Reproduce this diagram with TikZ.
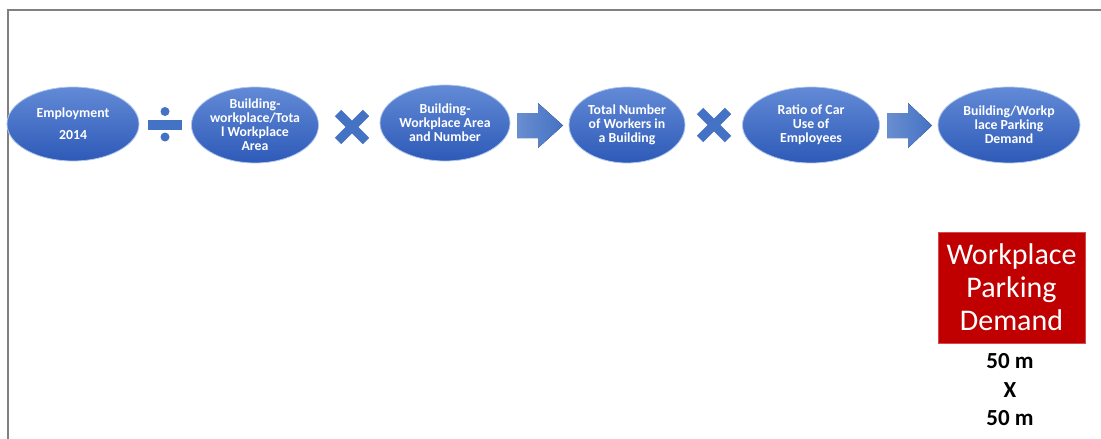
\documentclass[tikz,border=0pt]{standalone}
\usepackage{fontspec}
\setmainfont{Carlito}
\usetikzlibrary{shapes.geometric}

\definecolor{bluetop}{RGB}{98,138,214}
\definecolor{bluebot}{RGB}{46,90,184}
\definecolor{blueedge}{RGB}{175,198,236}
\definecolor{opblue}{RGB}{68,114,196}
\definecolor{boxred}{RGB}{192,0,0}
\definecolor{framegray}{RGB}{128,128,128}

\tikzset{
  stepoval/.style={ellipse, draw=blueedge, line width=0.8pt,
    top color=bluetop, bottom color=bluebot, text=white,
    font=\bfseries\fontsize{13.8}{14}\selectfont, align=center, inner sep=0pt},
  blockarrow/.style={left color=opblue!80, right color=opblue},
  crossbar/.style={opblue, line width=9pt},
}

\begin{document}
\begin{tikzpicture}[x=1pt,y=-1pt]
\useasboundingbox (0,0) rectangle (1101,439);

% frame
\draw[framegray, line width=2pt] (7.5,439) -- (7.5,9.5) -- (1101,9.5);

% chain of ellipses
\node[stepoval, minimum width=132pt, minimum height=74pt] (emp) at (73,124) {Employment\\[8pt]2014};
\node[stepoval, minimum width=124pt, minimum height=76pt] (bwr) at (255,125) {Building-\\workplace/Tota\\l Workplace\\Area};
\node[stepoval, minimum width=130pt, minimum height=76pt] (bwa) at (445,123) {Building-\\Workplace Area\\and Number};
\node[stepoval, minimum width=116pt, minimum height=76pt] (tnw) at (627,125) {Total Number\\of Workers in\\a Building};
\node[stepoval, minimum width=137pt, minimum height=76pt] (rcu) at (811,125) {Ratio of Car\\Use of\\Employees};
\node[stepoval, minimum width=142pt, minimum height=76pt] (bpd) at (1009,125) {Building/Workp\\lace Parking\\Demand};

% operators
\fill[opblue] (148,120) rectangle (182,130);
\fill[opblue] (165,111.5) circle (4.5pt);
\fill[opblue] (165,137) circle (4.5pt);

\draw[crossbar] (338,113) -- (366,141);
\draw[crossbar] (338,141) -- (366,113);

\fill[blockarrow] (517,113) -- (538,113) -- (538,103) -- (563,125.5)
  -- (538,148) -- (538,138) -- (517,138) -- cycle;

\draw[crossbar] (700,111) -- (728,139);
\draw[crossbar] (700,139) -- (728,111);

\fill[blockarrow] (887,113) -- (908,113) -- (908,103) -- (932,125.5)
  -- (908,148) -- (908,138) -- (887,138) -- cycle;

% result box
\node[fill=boxred, draw=boxred!70!white, line width=1pt, text=white,
  minimum width=147pt, minimum height=111pt, align=center,
  font=\fontsize{30}{33}\selectfont] (wpd) at (1011.5,287.5) {Workplace\\Parking\\Demand};
\node[font=\bfseries\fontsize{23}{28.5}\selectfont, align=center] (dims) at (1010,390) {50 m\\X\\50 m};

\end{tikzpicture}
\end{document}
